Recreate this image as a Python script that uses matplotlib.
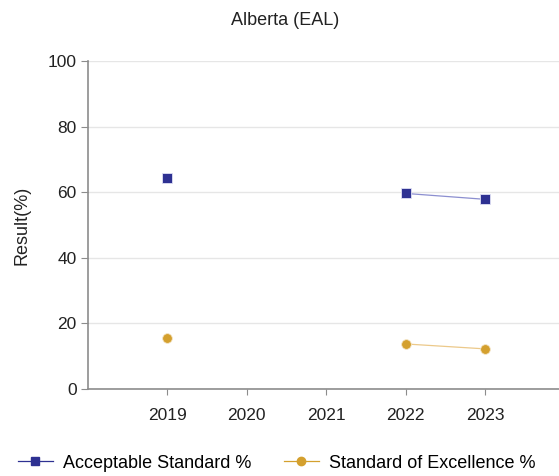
import numpy as np
import matplotlib
matplotlib.use("Agg")
import matplotlib.pyplot as plt

plt.rcParams['font.family'] = ['Liberation Sans', 'DejaVu Sans']

years = [2019, 2020, 2021, 2022, 2023]
acceptable = [64.4, np.nan, np.nan, 59.6, 57.8]
excellence = [15.5, np.nan, np.nan, 13.7, 12.2]

fig = plt.figure(figsize=(5.59, 4.76), dpi=100)
ax = fig.add_axes([0.157, 0.183, 0.843, 0.689])

ax.plot(years, acceptable, color='#8c8fd0', lw=0.9, zorder=2)
ax.plot(years, acceptable, ls='none', marker='s', ms=7, color='#2e3192',
        markeredgecolor='#e0e0f5', markeredgewidth=0.6, zorder=3)
ax.plot(years, excellence, color='#ecc98a', lw=0.9, zorder=2)
ax.plot(years, excellence, ls='none', marker='o', ms=7, color='#d4a02e',
        markeredgecolor='#f5e6c8', markeredgewidth=0.6, zorder=3)

ax.set_xlim(2018, 2023.93)
ax.set_ylim(0, 100)
ax.set_xticks(years)
ax.set_yticks([0, 20, 40, 60, 80, 100])
ax.grid(axis='y', color='#e6e6e6', lw=1)
ax.set_axisbelow(True)
for s in ['top', 'right']:
    ax.spines[s].set_visible(False)
for s in ['left', 'bottom']:
    ax.spines[s].set_color('#8c8c8c')
    ax.spines[s].set_linewidth(1.2)
ax.tick_params(axis='both', colors='#8c8c8c', labelcolor='#222222', labelsize=12.5)
ax.tick_params(axis='y', length=5, pad=3)
ax.tick_params(axis='x', length=4, pad=10)
ax.set_ylabel('Result(%)', fontsize=13, color='#222222', labelpad=10)
ax.yaxis.set_label_coords(-0.121, 0.5)
fig.text(0.51, 0.957, 'Alberta (EAL)', fontsize=13, color='#222222', ha='center', va='center')

h1, = ax.plot([], [], color='#2e3192', lw=0.9, marker='s', ms=6)
h2, = ax.plot([], [], color='#d4a02e', lw=0.9, marker='o', ms=6)
fig.legend([h1, h2], ['Acceptable Standard %', 'Standard of Excellence %'],
           loc='center', bbox_to_anchor=(0.495, 0.027), ncol=2, frameon=False,
           fontsize=13, handlelength=1.95, handletextpad=0.55, columnspacing=1.8)

fig.savefig('out.png', dpi=100)
